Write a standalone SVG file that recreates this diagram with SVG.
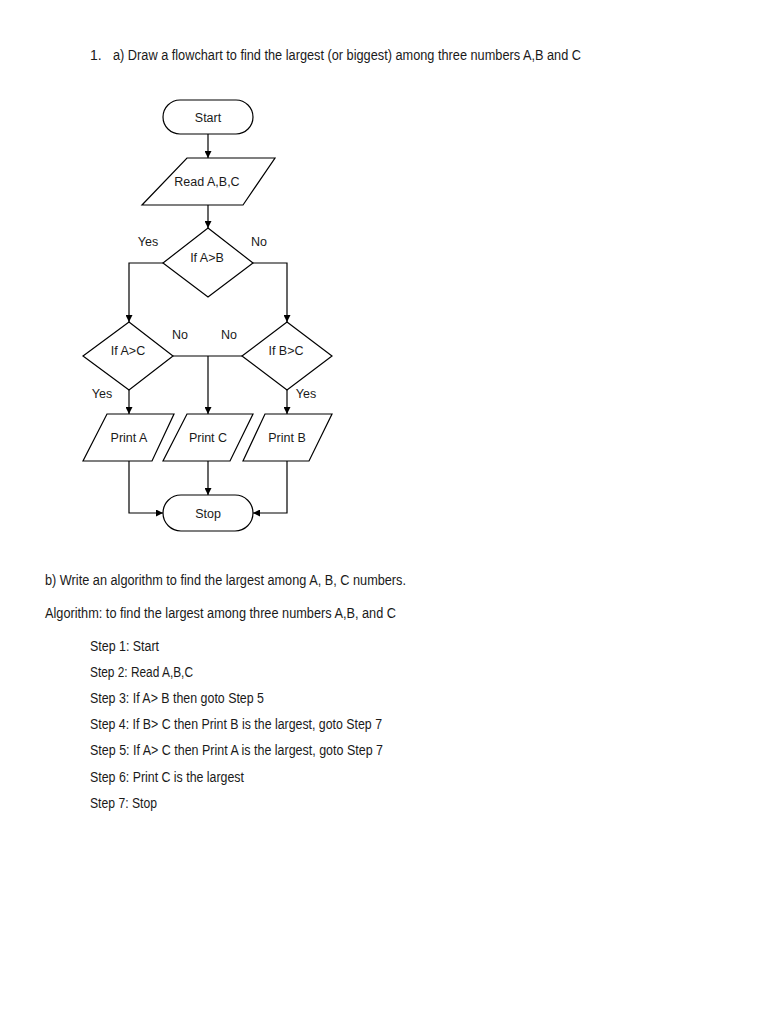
<svg xmlns="http://www.w3.org/2000/svg" width="768" height="1024" viewBox="0 0 768 1024">
<style>
.s{fill:#fff;stroke:#000;stroke-width:1.2}
.c{fill:none;stroke:#000;stroke-width:1.2}
text{font-family:"Liberation Sans",Arial,sans-serif;font-size:12.5px;fill:#1a1a1a}
.m{text-anchor:middle}
.t{font-size:14px}
</style>
<defs>
<marker id="ah" viewBox="0 0 10 10" refX="10" refY="5" markerWidth="7" markerHeight="7" orient="auto" markerUnits="userSpaceOnUse"><path d="M0,0 L10,5 L0,10 z" fill="#000"/></marker>
</defs>
<rect width="768" height="1024" fill="#fff"/>
<text class="t" x="90" y="60">1.</text>
<text class="t" x="113" y="60" textLength="468" lengthAdjust="spacingAndGlyphs">a) Draw a flowchart  to find the largest (or biggest) among three numbers A,B and C</text>
<g id="connectors">
<path class="c" d="M208,134 V158" marker-end="url(#ah)"/>
<path class="c" d="M208,205 V228" marker-end="url(#ah)"/>
<path class="c" d="M163,263 H129 V322" marker-end="url(#ah)"/>
<path class="c" d="M253,263 H287 V322" marker-end="url(#ah)"/>
<path class="c" d="M173,356 H242"/>
<path class="c" d="M208,356 V414" marker-end="url(#ah)"/>
<path class="c" d="M129,390 V414" marker-end="url(#ah)"/>
<path class="c" d="M287,390 V414" marker-end="url(#ah)"/>
<path class="c" d="M129,461 V513 H163" marker-end="url(#ah)"/>
<path class="c" d="M287,461 V513 H253" marker-end="url(#ah)"/>
<path class="c" d="M208,461 V495" marker-end="url(#ah)"/>
<text x="148" y="246" class="m">Yes</text>
<text x="259" y="246" class="m">No</text>
<text x="180" y="339" class="m">No</text>
<text x="229" y="339" class="m">No</text>
<text x="102" y="398" class="m">Yes</text>
<text x="306" y="398" class="m">Yes</text>
</g>
<g id="start"><rect class="s" x="163" y="100" width="90" height="34" rx="17"/><text x="208" y="122" class="m">Start</text></g>
<g id="read"><polygon class="s" points="187,158 275,158 243,205 142,205"/><text x="207" y="186" class="m">Read A,B,C</text></g>
<g id="ifab"><polygon class="s" points="208,228 253,263 208,297 163,263"/><text x="207" y="262" class="m">If A&gt;B</text></g>
<g id="ifac"><polygon class="s" points="129,322 173,356 129,390 83,356"/><text x="128" y="355" class="m">If A&gt;C</text></g>
<g id="ifbc"><polygon class="s" points="287,322 332,356 287,390 242,356"/><text x="286" y="355" class="m">If B&gt;C</text></g>
<g id="printa"><polygon class="s" points="107,414 174,414 152,461 83,461"/><text x="129" y="442" class="m">Print A</text></g>
<g id="printc"><polygon class="s" points="187,414 253,414 230,461 163,461"/><text x="208" y="442" class="m">Print C</text></g>
<g id="printb"><polygon class="s" points="265,414 332,414 309,461 243,461"/><text x="287" y="442" class="m">Print B</text></g>
<g id="stop"><rect class="s" x="163" y="495" width="90" height="36" rx="18"/><text x="208" y="518" class="m">Stop</text></g>
<text class="t" x="45" y="585" textLength="361" lengthAdjust="spacingAndGlyphs">b) Write an algorithm to find the largest among A, B, C numbers.</text>
<text class="t" x="45" y="618" textLength="351" lengthAdjust="spacingAndGlyphs">Algorithm: to find the largest among three numbers A,B, and C</text>
<text class="t" x="90" y="651" textLength="69" lengthAdjust="spacingAndGlyphs">Step 1: Start</text>
<text class="t" x="90" y="677" textLength="103" lengthAdjust="spacingAndGlyphs">Step 2: Read A,B,C</text>
<text class="t" x="90" y="703" textLength="174" lengthAdjust="spacingAndGlyphs">Step 3: If A&gt; B then goto Step 5</text>
<text class="t" x="90" y="729" textLength="292" lengthAdjust="spacingAndGlyphs">Step 4: If B&gt; C then Print B is the largest, goto Step 7</text>
<text class="t" x="90" y="755" textLength="293" lengthAdjust="spacingAndGlyphs">Step 5: If A&gt; C then Print A is the largest, goto Step 7</text>
<text class="t" x="90" y="782" textLength="154" lengthAdjust="spacingAndGlyphs">Step 6: Print C is the largest</text>
<text class="t" x="90" y="808" textLength="67" lengthAdjust="spacingAndGlyphs">Step 7: Stop</text>
</svg>
